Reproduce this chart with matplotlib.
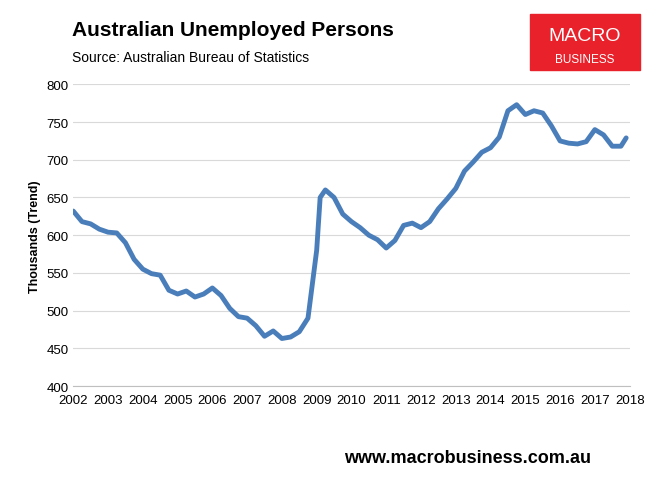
import matplotlib
matplotlib.use("Agg")
import matplotlib.pyplot as plt
from matplotlib.patches import Rectangle
plt.rcParams["font.family"] = "Liberation Sans"

years = [2002.0,2002.25,2002.5,2002.75,2003.0,2003.25,2003.5,2003.75,2004.0,2004.25,2004.5,2004.75,
         2005.0,2005.25,2005.5,2005.75,2006.0,2006.25,2006.5,2006.75,2007.0,2007.25,2007.5,2007.75,
         2008.0,2008.25,2008.5,2008.75,2009.0,2009.1,2009.25,2009.5,2009.75,2010.0,2010.25,2010.5,
         2010.75,2011.0,2011.25,2011.5,2011.75,2012.0,2012.25,2012.5,2012.75,2013.0,2013.25,2013.5,
         2013.75,2014.0,2014.25,2014.5,2014.75,2015.0,2015.25,2015.5,2015.75,2016.0,2016.25,2016.5,
         2016.75,2017.0,2017.25,2017.5,2017.75,2017.9]
unemployed = [632,618,615,608,604,603,590,568,555,549,547,527,
              522,526,518,522,530,520,503,492,490,480,466,473,
              463,465,472,490,580,650,660,650,628,618,610,600,
              594,583,593,613,616,610,618,635,648,662,685,697,
              710,716,730,765,773,760,765,762,745,725,722,721,
              724,740,733,718,718,729]
xticks = list(range(2002, 2019))
yticks = [400,450,500,550,600,650,700,750,800]

fig = plt.figure(figsize=(6.6,4.85), dpi=100)
ax = fig.add_axes([0.111, 0.202, 0.843, 0.622])
ax.plot(years, unemployed, color="#4a7ebb", lw=3.5, solid_capstyle="round", solid_joinstyle="round")
ax.set_xlim(2002, 2018)
ax.set_ylim(400, 800)
ax.set_xticks(xticks)
ax.set_yticks(yticks)
ax.tick_params(labelsize=9.5, length=0)
ax.tick_params(axis="x", pad=6)
ax.grid(axis="y", color="#d9d9d9", lw=0.8)
for s in ["top","right","left"]:
    ax.spines[s].set_visible(False)
ax.spines["bottom"].set_color("#bfbfbf")
ax.set_ylabel("Thousands (Trend)", fontsize=9, fontweight="bold")

fig.text(0.109, 0.925, "Australian Unemployed Persons", fontsize=15, fontweight="bold")
fig.text(0.109, 0.872, "Source: Australian Bureau of Statistics", fontsize=10)
fig.patches.append(Rectangle((0.803, 0.853), 0.167, 0.117, transform=fig.transFigure, color="#e8212b"))
fig.text(0.886, 0.925, "MACRO", fontsize=14, color="white", ha="center", va="center")
fig.text(0.886, 0.877, "BUSINESS", fontsize=8.5, color="white", ha="center", va="center")
fig.text(0.895, 0.045, "www.macrobusiness.com.au", fontsize=13, fontweight="bold", ha="right")
fig.savefig("out.png", dpi=100)
